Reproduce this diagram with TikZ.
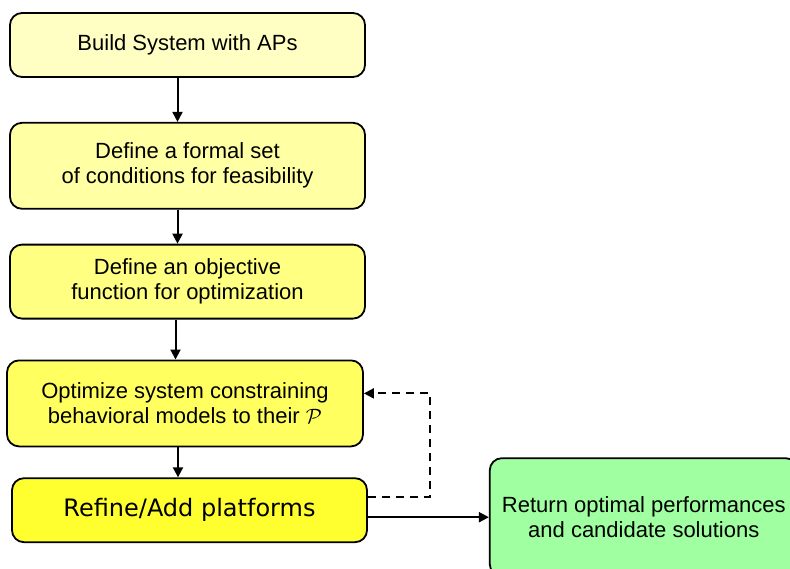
\documentclass[tikz,border=0pt]{standalone}
\usepackage{fontspec}
\setmainfont{Liberation Sans}
\newfontfamily\refinefont{DejaVu Sans}
\usepackage{xcolor}
\usepackage{tikz}
\usetikzlibrary{shapes,arrows.meta,positioning,calc}

\definecolor{yellowA}{RGB}{255,255,196}
\definecolor{yellowB}{RGB}{255,255,164}
\definecolor{yellowC}{RGB}{255,255,130}
\definecolor{yellowD}{RGB}{255,255,96}
\definecolor{yellowE}{RGB}{255,255,48}
\definecolor{greenbox}{RGB}{160,255,160}

\begin{document}
\begin{tikzpicture}[
    block/.style={rectangle, draw, line width=1.8pt, rounded corners=12pt, align=center,
        minimum width=355pt, font=\fontsize{22pt}{25pt}\selectfont},
    flow/.style={-{Triangle[length=10pt,width=10pt]}, line width=2pt}]

    \clip (0,0) rectangle (790pt,-568pt);

    % Main column
    \node[block, fill=yellowA, minimum height=64pt] (build) at (187.5pt,-45pt) {Build System with APs};
    \node[block, below=44pt of build, fill=yellowB, minimum height=86pt] (cond) {Define a formal set\\of conditions for feasibility};
    \node[block, below=34pt of cond, fill=yellowC, minimum height=74pt] (objective) {Define an objective\\function for optimization};
    \node[block, below=40pt of objective, xshift=-2.5pt, fill=yellowD, minimum height=86pt, minimum width=356pt] (optimize) {Optimize system constraining\\behavioral models to their $\mathcal{P}$};
    \node[block, below=30pt of optimize, xshift=4.5pt, fill=yellowE, minimum height=64pt, font=\refinefont\fontsize{24pt}{28pt}\selectfont] (refine) {Refine/Add platforms};

    % Result
    \node[block, right=121pt of refine, yshift=-7pt, fill=greenbox, minimum width=308pt, minimum height=118pt] (result) {Return optimal performances\\and candidate solutions};

    % Arrows
    \draw[flow] ([xshift=-10pt]build.south) -- ([xshift=-10pt]build.south |- cond.north);
    \draw[flow] ([xshift=-10pt]cond.south) -- ([xshift=-10pt]cond.south |- objective.north);
    \draw[flow] ([xshift=-12pt]objective.south) -- ([xshift=-12pt]objective.south |- optimize.north);
    \draw[flow] ([xshift=-7pt]optimize.south) -- ([xshift=-7pt]optimize.south |- refine.north);
    \draw[flow, dashed, dash pattern=on 8pt off 6pt] ([yshift=13pt]refine.east) -- ++(62pt,0) |- ([yshift=10pt]optimize.east);
    \draw[flow] (refine.east |- result.west) -- (result.west);

\end{tikzpicture}
\end{document}
